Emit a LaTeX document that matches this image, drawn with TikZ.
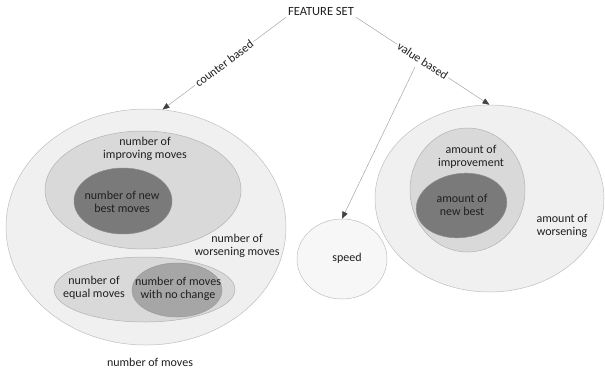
\documentclass[tikz,border=0pt]{standalone}
\usepackage{fontspec}
\setmainfont{Carlito}
\usetikzlibrary{shapes.geometric,arrows.meta}
\begin{document}
\begin{tikzpicture}[x=1pt,y=-1pt,
  ell/.style={ellipse,inner sep=0pt,line width=0.5pt},
  outerell/.style={ell,draw=black!25,fill=black!6},
  midell/.style={ell,draw=black!30,fill=black!15},
  darkell/.style={ell,draw=black!45,fill=black!52},
  nochell/.style={ell,draw=black!40,fill=black!35},
  lbl/.style={align=center,font=\fontsize{12}{13.5}\selectfont,text=black!88,inner sep=1pt},
  conn/.style={draw=black!35,line width=0.5pt,-{Triangle[length=7pt,width=5.5pt,fill=black!75,color=black!75]}},
  edgelbl/.style={lbl,sloped,fill=white,inner sep=1.5pt}]
\useasboundingbox (0,0) rectangle (605,373);
% left group
\node[outerell,minimum width=280pt,minimum height=236pt] (L) at (146,227) {};
\node[midell,minimum width=196pt,minimum height=118pt] (LI) at (143,190) {};
\node[darkell,minimum width=98pt,minimum height=66pt] (LB) at (123,201) {};
\node[midell,minimum width=181pt,minimum height=65pt] (LE) at (144.5,289.5) {};
\node[nochell,minimum width=90pt,minimum height=54pt] (LN) at (177,290) {};
% right group
\node[outerell,minimum width=229pt,minimum height=187pt] (R) at (489.5,198.5) {};
\node[midell,minimum width=115pt,minimum height=124pt] (RI) at (467.5,190) {};
\node[darkell,minimum width=91pt,minimum height=64pt,rotate=8] (RB) at (461.5,205.5) {};
% speed
\node[ell,draw=black!25,fill=black!3,minimum width=90pt,minimum height=80pt] (S) at (342,259) {};
% texts
\node[lbl] (t1) at (145,149) {number of\\improving moves};
\node[lbl] (t2) at (122,202) {number of new\\best moves};
\node[lbl] (t3) at (237,246) {number of\\worsening moves};
\node[lbl] (t4) at (94,288) {number of\\equal moves};
\node[lbl] (t5) at (178,289) {number of moves\\with no change};
\node[lbl] (t6) at (150,362) {number of moves};
\node[lbl] (t7) at (471,157) {amount of\\improvement};
\node[lbl] (t8) at (462,205) {amount of\\new best};
\node[lbl] (t9) at (562,226) {amount of\\worsening};
\node[lbl] (t10) at (347,258) {speed};
\node[lbl,font=\fontsize{12.5}{14}\selectfont,inner sep=2pt] (fs) at (321,11) {FEATURE SET};
% connectors
\coordinate (sp) at (415,67);
\draw[conn] (fs.south west) -- node[edgelbl] {counter based} (L.82);
\draw[conn] (fs.south east) -- node[edgelbl] {value based} (R.north);
\draw[conn] (sp) -- (S.north);
\end{tikzpicture}
\end{document}
